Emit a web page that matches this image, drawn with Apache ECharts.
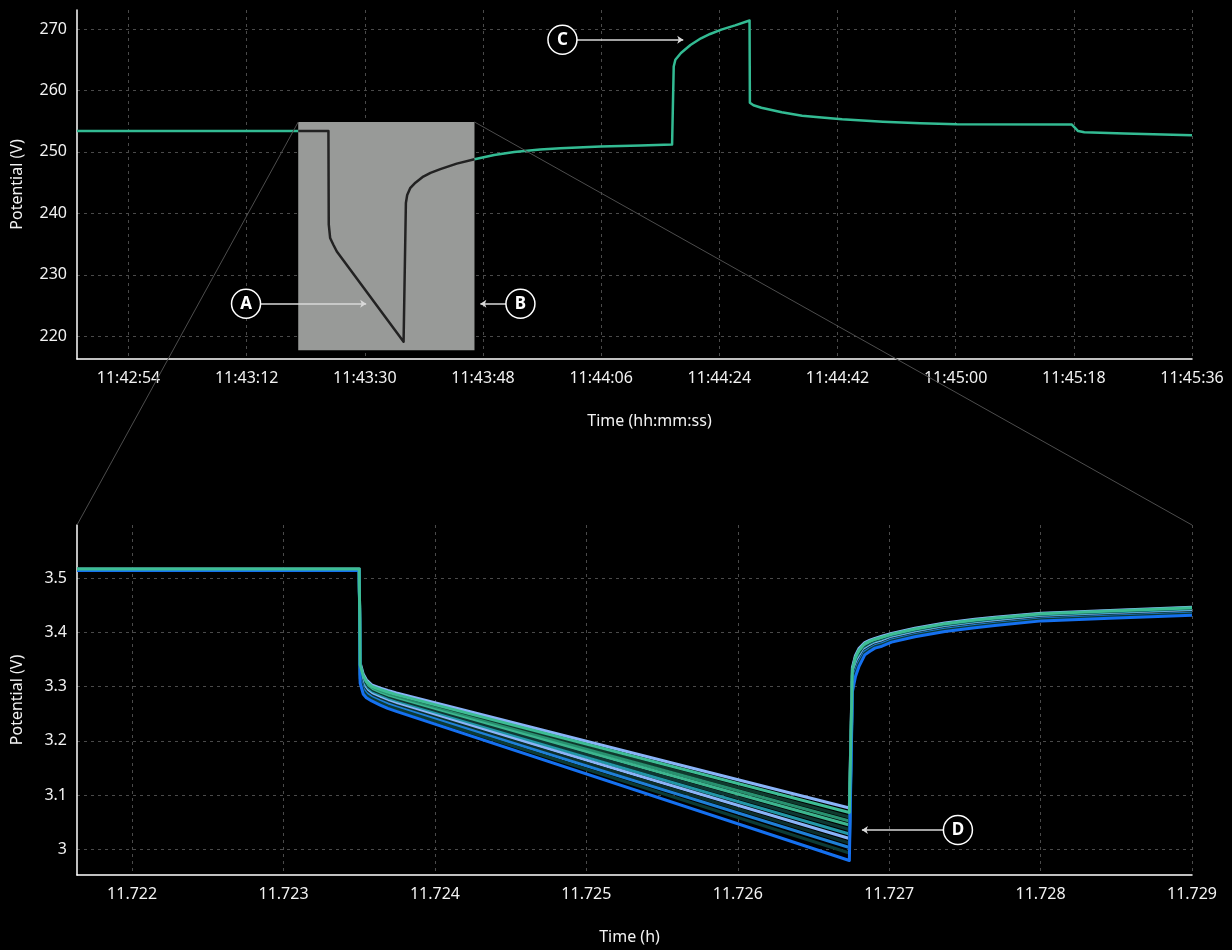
<!DOCTYPE html>
<html>
<head>
<meta charset="utf-8">
<script src="https://cdn.jsdelivr.net/npm/echarts@6/dist/echarts.min.js"></script>
<style>
  html, body { margin: 0; padding: 0; background: #000; }
  #chart { width: 1232px; height: 950px; }
</style>
</head>
<body>
<div id="chart"></div>
<script>
// ---- Pack potential vs. time of day (seconds since midnight) ----
const packTimes = [42166.15, 42199.85, 42204.45, 42204.5, 42204.71, 42205.2, 42205.73, 42215.9,
  42216.25, 42216.45, 42216.9, 42217.7, 42218.9, 42220.0, 42221.5, 42224.0, 42226.7,
  42229.7, 42232.75, 42236.7, 42239.8, 42245.9, 42252.0, 42256.8,
  42257.05, 42257.3, 42258.15, 42259.6, 42261.2, 42262.6, 42264.3, 42266.4, 42268.6,
  42268.65, 42269.2, 42270.4, 42273.5, 42276.6, 42279.6, 42282.7, 42288.9, 42294.6, 42300.2,
  42317.7, 42318.0, 42318.65, 42319.6, 42325.7, 42336.0];
const packVolts = [253.4, 253.4, 253.4, 238.2, 236.0, 234.9, 233.8, 219.1,
  241.7, 243.0, 244.1, 245.0, 246.0, 246.6, 247.2, 248.1, 248.8,
  249.5, 250.0, 250.4, 250.6, 250.9, 251.05, 251.2,
  263.9, 265.0, 266.1, 267.4, 268.5, 269.2, 269.9, 270.6, 271.4,
  258.0, 257.6, 257.2, 256.45, 255.9, 255.6, 255.3, 254.9, 254.65, 254.5,
  254.45, 254.1, 253.4, 253.2, 253.0, 252.7];
const packTimeRange = [42166.15, 42336];
const packVoltRange = [216.3, 273.1];

// Window of the pack trace shown in detail below
const zoomTimeRange = [42199.85, 42226.7];
const zoomVoltRange = [217.72, 254.87];

// ---- Cell potentials vs. time (h) ----
const cellTimes = [11.721636, 11.7235, 11.723506, 11.723526, 11.723547, 11.723582, 11.723635, 11.723688,
  11.723745, 11.726737, 11.726757, 11.726777, 11.7268, 11.726839, 11.726873, 11.726906, 11.726952,
  11.727016, 11.72717, 11.727368, 11.727566, 11.727698, 11.728007, 11.728458, 11.729];
const cell01 = [3.517, 3.517, 3.3435, 3.3234, 3.3127, 3.3031, 3.2977, 3.2928, 3.2882, 3.0762, 3.3349, 3.357, 3.370, 3.381, 3.3856, 3.389, 3.3928, 3.398, 3.4075, 3.4175, 3.4242, 3.428, 3.4354, 3.4405, 3.4465];
const cell02 = [3.5167, 3.5167, 3.3403, 3.3202, 3.3098, 3.3006, 3.295, 3.29, 3.2853, 3.0679, 3.3311, 3.3537, 3.3671, 3.3791, 3.3839, 3.3875, 3.3912, 3.3966, 3.4062, 3.4161, 3.4229, 3.4267, 3.4342, 3.4393, 3.4452];
const cell03 = [3.5165, 3.5165, 3.3372, 3.3171, 3.307, 3.298, 3.2924, 3.2872, 3.2824, 3.0596, 3.3273, 3.3503, 3.3643, 3.3772, 3.3821, 3.3859, 3.3897, 3.3953, 3.4049, 3.4148, 3.4216, 3.4254, 3.433, 3.4381, 3.444];
const cell04 = [3.5163, 3.5163, 3.3344, 3.3143, 3.3045, 3.2958, 3.29, 3.2846, 3.2798, 3.0522, 3.3239, 3.3473, 3.3617, 3.3754, 3.3806, 3.3845, 3.3883, 3.394, 3.4037, 3.4136, 3.4204, 3.4242, 3.4319, 3.4369, 3.4428];
const cell05 = [3.516, 3.516, 3.3315, 3.3114, 3.3019, 3.2935, 3.2876, 3.2821, 3.2772, 3.0448, 3.3206, 3.3444, 3.3592, 3.3737, 3.379, 3.3832, 3.3869, 3.3928, 3.4025, 3.4124, 3.4192, 3.423, 3.4308, 3.4359, 3.4417];
const cell06 = [3.5158, 3.5158, 3.3284, 3.3083, 3.2991, 3.291, 3.2849, 3.2793, 3.2743, 3.0365, 3.3167, 3.341, 3.3564, 3.3718, 3.3773, 3.3816, 3.3853, 3.3914, 3.4011, 3.411, 3.4178, 3.4217, 3.4296, 3.4346, 3.4404];
const cell07 = [3.5155, 3.5155, 3.3252, 3.3051, 3.2962, 3.2884, 3.2822, 3.2764, 3.2713, 3.0282, 3.3129, 3.3377, 3.3535, 3.3698, 3.3755, 3.3801, 3.3837, 3.3901, 3.3998, 3.4097, 3.4165, 3.4204, 3.4284, 3.4334, 3.4392];
const cell08 = [3.5153, 3.5153, 3.3221, 3.302, 3.2934, 3.2859, 3.2796, 3.2736, 3.2685, 3.0199, 3.3092, 3.3343, 3.3507, 3.3679, 3.3738, 3.3785, 3.3822, 3.3887, 3.3985, 3.4083, 3.4152, 3.4191, 3.4272, 3.4322, 3.4379];
const cell09 = [3.515, 3.515, 3.3189, 3.2988, 3.2906, 3.2834, 3.2769, 3.2708, 3.2655, 3.0116, 3.3054, 3.331, 3.3478, 3.366, 3.3721, 3.377, 3.3806, 3.3873, 3.3972, 3.407, 3.4139, 3.4178, 3.4259, 3.431, 3.4366];
const cell10 = [3.5147, 3.5147, 3.3157, 3.2956, 3.2877, 3.2808, 3.2742, 3.268, 3.2626, 3.0033, 3.3015, 3.3276, 3.3449, 3.3641, 3.3703, 3.3754, 3.379, 3.386, 3.3958, 3.4056, 3.4125, 3.4165, 3.4247, 3.4297, 3.4354];
const cell11 = [3.5144, 3.5144, 3.3119, 3.2918, 3.2843, 3.2777, 3.271, 3.2645, 3.2591, 2.9932, 3.2969, 3.3236, 3.3415, 3.3617, 3.3682, 3.3736, 3.3771, 3.3843, 3.3942, 3.404, 3.4109, 3.4149, 3.4232, 3.4282, 3.4338];
const cell12 = [3.514, 3.514, 3.3066, 3.2865, 3.2795, 3.2735, 3.2665, 3.2598, 3.2542, 2.9793, 3.2906, 3.318, 3.3367, 3.3585, 3.3653, 3.371, 3.3745, 3.382, 3.392, 3.4017, 3.4087, 3.4127, 3.4212, 3.4262, 3.4317];
const cellTimeRange = [11.721636, 11.729];
const cellVoltRange = [2.9526, 3.598];

// ---- Callouts (data coordinates: circle centre, arrow tip) ----
const packCalloutLabels = ['A', 'B', 'C'];
const packCalloutCircles = [[42191.9, 225.3], [42233.7, 225.3], [42240.1, 268.25]];
const packCalloutTips = [[42210.2, 225.3], [42227.6, 225.3], [42258.5, 268.25]];
const cellCalloutLabels = ['D'];
const cellCalloutCircles = [[11.727454, 3.0356]];
const cellCalloutTips = [[11.72682, 3.0356]];

// ---- Styling ----
const FONT = 'Noto Sans';
const TEXT = '#f2f2f2';
const GRID_LINE = { color: '#4a4a4a', type: [3, 4], width: 1 };
const PACK_COLOR = '#33bb93';
const ZOOM_FILL = '#989a98';
const ZOOM_LINE = '#222222';
const CELL_COLORS = ['#8ab4f8', '#3dbd94', '#0f3a2e', '#28906f', '#3cb58e', '#0e3733',
  '#2196a6', '#8ab4f8', '#0d2f2b', '#1e7fd6', '#0c3a34', '#1570ef'];
const cellSeriesValues = [cell01, cell02, cell03, cell04, cell05, cell06,
  cell07, cell08, cell09, cell10, cell11, cell12];

function hms(sec) {
  const s = Math.round(sec);
  const h = Math.floor(s / 3600);
  const m = Math.floor((s % 3600) / 60);
  const r = s % 60;
  const p = n => String(n).padStart(2, '0');
  return p(h) + ':' + p(m) + ':' + p(r);
}

function zip(xs, ys) { return xs.map((x, i) => [x, ys[i]]); }

const packData = zip(packTimes, packVolts);
const zoomData = packData.filter(d => d[0] >= zoomTimeRange[0] && d[0] <= zoomTimeRange[1]);

function callouts(labels, circles, tips) {
  return {
    markLine: {
      silent: true, z: 6, animation: false,
      symbol: ['none', 'arrow'], symbolSize: 6,
      label: { show: false },
      lineStyle: { color: '#d9d9d9', width: 1.5, type: 'solid' },
      emphasis: { disabled: true },
      data: circles.map((c, i) => [{ coord: c }, { coord: tips[i] }])
    },
    markPoint: {
      silent: true, z: 7, animation: false,
      symbol: 'circle', symbolSize: 29,
      itemStyle: { color: '#000', borderColor: '#ffffff', borderWidth: 1.5 },
      label: { show: true, formatter: '{b}', color: '#ffffff', fontFamily: FONT, fontWeight: 'bold', fontSize: 17 },
      emphasis: { disabled: true },
      data: circles.map((c, i) => ({ name: labels[i], coord: c }))
    }
  };
}

function axisCommon() {
  return {
    type: 'value',
    axisLine: { show: true, lineStyle: { color: '#ffffff', width: 1.5 } },
    axisTick: { show: false },
    nameLocation: 'middle',
    nameTextStyle: { color: TEXT, fontFamily: FONT, fontSize: 16 }
  };
}

const chart = echarts.init(document.getElementById('chart'), null, { renderer: 'canvas' });

const option = {
  backgroundColor: '#000000',
  animation: false,
  grid: [
    { left: 77, right: 40, top: 10, height: 349 },
    { left: 77, right: 40, top: 525, height: 350 }
  ],
  xAxis: [
    Object.assign(axisCommon(), {
      gridIndex: 0,
      min: packTimeRange[0], max: packTimeRange[1],
      minInterval: 18, maxInterval: 18,
      name: 'Time (hh:mm:ss)', nameGap: 54,
      nameTextStyle: { color: TEXT, fontFamily: FONT, fontSize: 16, padding: [0, 0, 0, 30] },
      axisLabel: { color: TEXT, fontFamily: FONT, fontSize: 16, margin: 11, showMinLabel: false, formatter: hms },
      splitLine: { show: true, showMinLine: false, lineStyle: GRID_LINE }
    }),
    Object.assign(axisCommon(), {
      gridIndex: 1,
      min: cellTimeRange[0], max: cellTimeRange[1],
      minInterval: 0.001, maxInterval: 0.001,
      name: 'Time (h)', nameGap: 54,
      nameTextStyle: { color: TEXT, fontFamily: FONT, fontSize: 16, padding: [0, 10, 0, 0] },
      axisLabel: { color: TEXT, fontFamily: FONT, fontSize: 16, margin: 11, showMinLabel: false,
        formatter: v => String(Math.round(v * 1000) / 1000) },
      splitLine: { show: true, showMinLine: false, lineStyle: GRID_LINE }
    })
  ],
  yAxis: [
    Object.assign(axisCommon(), {
      gridIndex: 0,
      min: packVoltRange[0], max: packVoltRange[1],
      minInterval: 10, maxInterval: 10,
      name: 'Potential (V)', nameGap: 52,
      axisLabel: { color: TEXT, fontFamily: FONT, fontSize: 16, margin: 10, showMinLabel: false, showMaxLabel: false },
      splitLine: { show: true, showMinLine: false, showMaxLine: false, lineStyle: GRID_LINE }
    }),
    Object.assign(axisCommon(), {
      gridIndex: 1,
      min: cellVoltRange[0], max: cellVoltRange[1],
      minInterval: 0.1, maxInterval: 0.1,
      name: 'Potential (V)', nameGap: 52,
      axisLabel: { color: TEXT, fontFamily: FONT, fontSize: 16, margin: 10, showMinLabel: false, showMaxLabel: false,
        formatter: v => String(Math.round(v * 10) / 10) },
      splitLine: { show: true, showMinLine: false, showMaxLine: false, lineStyle: GRID_LINE }
    })
  ],
  series: [
    {
      name: 'Pack', type: 'line', xAxisIndex: 0, yAxisIndex: 0, z: 2,
      data: packData, showSymbol: false, silent: true,
      lineStyle: { color: PACK_COLOR, width: 2.5, join: 'round' }
    },
    Object.assign({
      name: 'Pack (detail window)', type: 'line', xAxisIndex: 0, yAxisIndex: 0, z: 4,
      data: zoomData, showSymbol: false, silent: true,
      lineStyle: { color: ZOOM_LINE, width: 2.5, join: 'round' },
      markArea: {
        silent: true, z: 3, animation: false,
        itemStyle: { color: ZOOM_FILL, opacity: 1 },
        label: { show: false },
        emphasis: { disabled: true },
        data: [[{ coord: [zoomTimeRange[0], zoomVoltRange[1]] }, { coord: [zoomTimeRange[1], zoomVoltRange[0]] }]]
      }
    }, callouts(packCalloutLabels, packCalloutCircles, packCalloutTips))
  ].concat(cellSeriesValues.map((vals, i) => {
    const s = {
      name: 'Cell ' + (i + 1), type: 'line', xAxisIndex: 1, yAxisIndex: 1,
      z: i === 1 ? 3 : 2,
      data: zip(cellTimes, vals), showSymbol: false, silent: true,
      lineStyle: { color: CELL_COLORS[i], width: 3, join: 'round' }
    };
    return i === 0 ? Object.assign(s, callouts(cellCalloutLabels, cellCalloutCircles, cellCalloutTips)) : s;
  }))
};

chart.setOption(option);

// Guide lines joining the detail window to the lower panel's corners
const w0 = chart.convertToPixel({ gridIndex: 0 }, [zoomTimeRange[0], zoomVoltRange[1]]);
const w1 = chart.convertToPixel({ gridIndex: 0 }, [zoomTimeRange[1], zoomVoltRange[1]]);
const c0 = chart.convertToPixel({ gridIndex: 1 }, [cellTimeRange[0], cellVoltRange[1]]);
const c1 = chart.convertToPixel({ gridIndex: 1 }, [cellTimeRange[1], cellVoltRange[1]]);
chart.setOption({
  graphic: [
    { type: 'line', silent: true, z: 20, shape: { x1: w0[0], y1: w0[1], x2: c0[0], y2: c0[1] },
      style: { stroke: '#4d4d4d', lineWidth: 1 } },
    { type: 'line', silent: true, z: 20, shape: { x1: w1[0], y1: w1[1], x2: c1[0], y2: c1[1] },
      style: { stroke: '#4d4d4d', lineWidth: 1 } }
  ]
});
</script>
</body>
</html>
